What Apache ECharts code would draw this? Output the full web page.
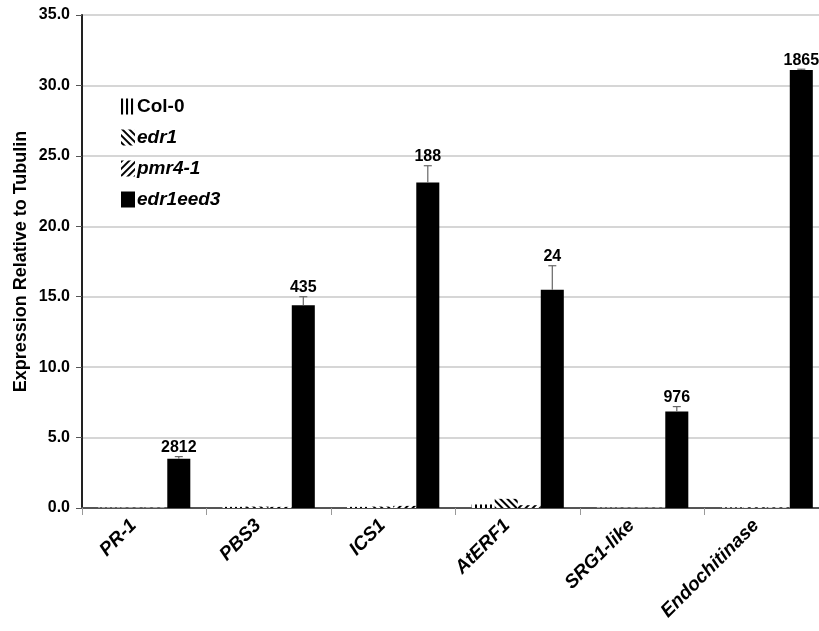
<!DOCTYPE html>
<html>
<head>
<meta charset="utf-8">
<script src="https://cdn.jsdelivr.net/npm/echarts@6/dist/echarts.min.js"></script>
<style>
html, body { margin: 0; padding: 0; background: #fff; }
#main { width: 819px; height: 631px; }
</style>
</head>
<body>
<div id="main"></div>
<script>
// 数据
var genes = ['PR-1', 'PBS3', 'ICS1', 'AtERF1', 'SRG1-like', 'Endochitinase'];
var col0 = [0.02, 0.08, 0.08, 0.25, 0.02, 0.04];
var edr1 = [0.02, 0.1, 0.1, 0.65, 0.02, 0.05];
var pmr41 = [0.02, 0.08, 0.15, 0.2, 0.02, 0.04];
var edr1eed3 = [3.5, 14.4, 23.1, 15.5, 6.85, 31.1];
var edr1eed3Err = [3.65, 15.0, 24.3, 17.2, 7.2, 31.15];
var foldLabels = ['2812', '435', '188', '24', '976', '1865'];
var yTicks = [0, 5, 10, 15, 20, 25, 30, 35];

var fontName = 'Liberation Sans, Arial, sans-serif';
var catGap = 0.26;

var errData = [];
for (var i = 0; i < genes.length; i++) {
    errData.push([i, edr1eed3[i], edr1eed3Err[i], foldLabels[i]]);
}

function stripe(rot) {
    return {
        color: '#000',
        backgroundColor: '#fff',
        symbol: 'rect',
        symbolSize: 1,
        dashArrayX: [2, 3],
        dashArrayY: [6, 0],
        rotation: rot
    };
}

// 误差线 + 标签
function renderErr(params, api) {
    var idx = api.value(0);
    var base = api.coord([idx, api.value(1)]);
    var top = api.coord([idx, api.value(2)]);
    var band = api.size([1, 0])[0];
    var x = base[0] + band * (1 - catGap) * 0.375;
    var lineStyle = { stroke: '#666', lineWidth: 1.2 };
    return {
        type: 'group',
        children: [
            { type: 'line', shape: { x1: x, y1: base[1], x2: x, y2: top[1] }, style: lineStyle },
            { type: 'line', shape: { x1: x - 4, y1: top[1], x2: x + 4, y2: top[1] }, style: lineStyle },
            {
                type: 'text',
                x: x, y: top[1] - 1,
                style: {
                    text: api.value(3),
                    fill: '#000',
                    font: 'bold 16px ' + fontName,
                    textAlign: 'center',
                    textVerticalAlign: 'bottom'
                }
            }
        ]
    };
}

var chart = echarts.init(document.getElementById('main'));
var option = {
    animation: false,
    backgroundColor: '#fff',
    grid: { left: 82, top: 15, bottom: 123, right: -10, containLabel: false, outerBoundsMode: 'none' },
    legend: {
        data: ['Col-0', 'edr1', 'pmr4-1', 'edr1eed3'],
        orient: 'vertical',
        left: 116,
        top: 92,
        itemWidth: 14,
        itemHeight: 16,
        itemGap: 12,
        icon: 'rect',
        formatter: function (name) {
            return name == 'Col-0' ? '{n|' + name + '}' : '{i|' + name + '}';
        },
        textStyle: {
            padding: [0, 0, 0, -3],
            rich: {
                n: { fontFamily: fontName, fontWeight: 'bold', fontSize: 19, color: '#000' },
                i: { fontFamily: fontName, fontWeight: 'bold', fontStyle: 'italic', fontSize: 19, color: '#000' }
            }
        }
    },
    xAxis: {
        type: 'category',
        data: genes,
        axisLine: { lineStyle: { color: '#555', width: 2 } },
        axisTick: { show: true, length: 7, lineStyle: { color: '#999' } },
        axisLabel: {
            interval: 0,
            rotate: 45,
            margin: 4,
            padding: [0, 15, 0, 0],
            fontFamily: fontName,
            fontWeight: 'bold',
            fontStyle: 'italic',
            fontSize: 19,
            color: '#000'
        }
    },
    yAxis: {
        type: 'value',
        min: yTicks[0],
        max: yTicks[yTicks.length - 1],
        interval: 5,
        name: 'Expression Relative to Tubulin',
        nameLocation: 'middle',
        nameGap: 52,
        nameMoveOverlap: false,
        nameTextStyle: { fontFamily: fontName, fontWeight: 'bold', fontSize: 18, color: '#000' },
        axisLine: { show: true, lineStyle: { color: '#222', width: 2 } },
        axisTick: { show: true, length: 6, lineStyle: { color: '#555' } },
        axisLabel: {
            margin: 12,
            fontFamily: fontName,
            fontWeight: 'bold',
            fontSize: 16,
            color: '#000',
            formatter: function (v) { return v.toFixed(1); }
        },
        splitLine: { lineStyle: { color: '#c8c8c8', width: 1.5 } }
    },
    series: [
        {
            name: 'Col-0', type: 'bar', data: col0,
            barGap: '0%', barCategoryGap: (catGap * 100) + '%',
            itemStyle: { color: '#fff', decal: stripe(0) }
        },
        {
            name: 'edr1', type: 'bar', data: edr1,
            itemStyle: { color: '#fff', decal: stripe(-Math.PI / 4) }
        },
        {
            name: 'pmr4-1', type: 'bar', data: pmr41,
            itemStyle: { color: '#fff', decal: stripe(Math.PI / 4) }
        },
        {
            name: 'edr1eed3', type: 'bar', data: edr1eed3,
            itemStyle: { color: '#000' }
        },
        {
            name: 'err', type: 'custom', data: errData,
            renderItem: renderErr,
            encode: { x: 0, y: [1, 2] },
            z: 5
        }
    ]
};
chart.setOption(option);
</script>
</body>
</html>
